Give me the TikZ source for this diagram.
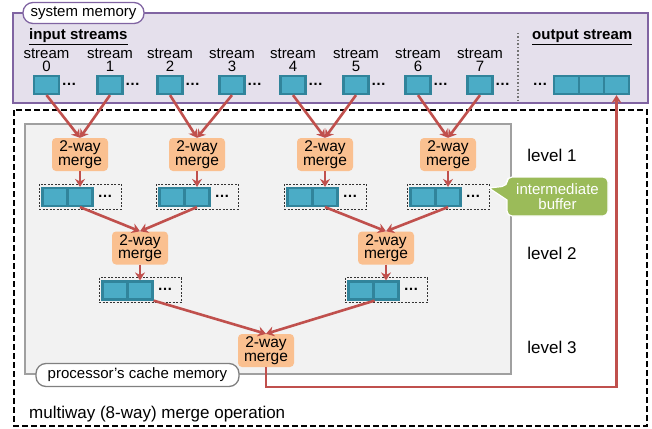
\documentclass[tikz,border=0pt]{standalone}
\usepackage{fontspec}
\setmainfont{Liberation Sans}
\usetikzlibrary{arrows.meta,calc}
\definecolor{cellfill}{HTML}{4BACC6}
\definecolor{celldraw}{HTML}{31849B}
\definecolor{sysfill}{HTML}{E5E0EC}
\definecolor{sysdraw}{HTML}{8064A2}
\definecolor{mergefill}{HTML}{FAC090}
\definecolor{arrred}{HTML}{C0504D}
\definecolor{callgreen}{HTML}{9BBB59}
\definecolor{cachefill}{HTML}{F2F2F2}
\definecolor{cachedraw}{HTML}{A0A0A0}
\begin{document}
\begin{tikzpicture}[x=1pt,y=-1pt,
  cell/.style={draw=celldraw,fill=cellfill,line width=2.2pt,minimum width=25pt,minimum height=18pt,inner sep=0pt},
  bufbox/.style={draw=black!80,dash pattern=on 2pt off 1.5pt,line width=0.7pt,minimum width=82pt,minimum height=25pt,inner sep=0pt},
  mergebox/.style={fill=mergefill,rounded corners=4pt,minimum width=56pt,minimum height=33pt,inner sep=0pt,align=center,font=\fontsize{15.5}{13.5}\selectfont},
  dotsnode/.style={inner sep=0pt,font=\fontsize{15}{15}\selectfont\bfseries},
  streamlabel/.style={inner sep=0pt,align=center,font=\fontsize{15}{13.5}\selectfont},
  pill/.style={fill=white,rounded corners=10pt,line width=1.3pt,inner sep=0pt,font=\fontsize{15}{15}\selectfont},
  levellabel/.style={inner sep=0pt,font=\fontsize{17}{17}\selectfont},
  arr/.style={draw=arrred,line width=2.6pt,-{Stealth[length=8pt,width=10pt]}}
]
\useasboundingbox (0,0) rectangle (652,428);

% system memory
\draw[fill=sysfill,draw=sysdraw,line width=1.5pt] (13,13) rectangle (648,103);
\node[pill,draw=sysdraw,minimum width=121pt,minimum height=21pt] (sysm) at (83.5,13) {system memory};
\node[anchor=base west,inner sep=0pt,font=\fontsize{15}{15}\selectfont\bfseries] (instr) at (29,40) {\underline{input streams}};
\node[anchor=base west,inner sep=0pt,font=\fontsize{15}{15}\selectfont\bfseries] (outstr) at (532,40) {\underline{output stream}};
\draw[draw=black!55,line width=1.3pt,dash pattern=on 1.5pt off 2pt] (518,33) -- (518,100);

% outer dashed box
\draw[black,line width=1.4pt,dash pattern=on 6pt off 3pt] (14,110) rectangle (647,426);
\node[anchor=base west,inner sep=0pt,font=\fontsize{17}{17}\selectfont] (multi) at (29,418) {multiway (8-way) merge operation};

% cache box
\draw[fill=cachefill,draw=cachedraw,line width=1.5pt] (25,124) rectangle (511,374);
\node[pill,draw=black!50,minimum width=203pt,minimum height=23pt] (cachem) at (137.5,375) {processor’s cache memory};

% input streams
\foreach \i/\x in {0/46.5,1/110,2/170,3/232,4/293,5/356,6/418,7/480}{
  \node[streamlabel] (l\i) at (\x,60) {stream\\\i};
  \node[cell] (s\i) at (\x,85) {};
  \node[dotsnode] (d\i) at (\x+22.5,84) {…};
}

% output stream
\node[dotsnode] (od) at (540,84) {…};
\node[cell] (o1) at (566.5,85) {};
\node[cell] (o2) at (591.5,85) {};
\node[cell] (o3) at (616.5,85) {};

% level labels
\node[levellabel] (lev1) at (552,155) {level 1};
\node[levellabel] (lev2) at (552,253) {level 2};
\node[levellabel] (lev3) at (552,347) {level 3};

% merges
\node[mergebox] (m1) at (80,154.5) {2-way\\merge};
\node[mergebox] (m2) at (197,154.5) {2-way\\merge};
\node[mergebox] (m3) at (325,154.5) {2-way\\merge};
\node[mergebox] (m4) at (448,154.5) {2-way\\merge};
\node[mergebox] (m5) at (140,248) {2-way\\merge};
\node[mergebox] (m6) at (386,248) {2-way\\merge};
\node[mergebox] (m7) at (266,350.5) {2-way\\merge};

% buffers
\foreach \n/\mx/\yb in {1/80/197,2/197/197,3/325/197,4/448/197,5/140/290.5,6/386/290.5}{
  \node[bufbox] (bb\n) at (\mx,\yb-0.5) {};
  \node[cell] (b\n a) at (\mx-25,\yb) {};
  \node[cell] (b\n b) at (\mx,\yb) {};
  \node[dotsnode] (bd\n) at (\mx+25,\yb-1) {…};
}

% callout
\draw[fill=callgreen,draw=white,line width=1.2pt] (507,186) -- (489,188) -- (507,200) [rounded corners=5pt] -- (507,216) -- (608,216) -- (608,177) -- (507,177) -- cycle;
\node[inner sep=0pt,align=center,text=white,font=\fontsize{15}{15.5}\selectfont] (callt) at (557.5,196.5) {intermediate\\buffer};

% arrows level 1
\draw[arr] (s0.south) -- (m1.north);
\draw[arr] (s1.south) -- (m1.north);
\draw[arr] (s2.south) -- (m2.north);
\draw[arr] (s3.south) -- (m2.north);
\draw[arr] (s4.south) -- (m3.north);
\draw[arr] (s5.south) -- (m3.north);
\draw[arr] (s6.south) -- (m4.north);
\draw[arr] (s7.south) -- (m4.north);
\foreach \n in {1,...,6}{\draw[arr] (m\n.south) -- (b\n b.north);}
% level 2
\draw[arr] (b1b.south) -- (m5.north);
\draw[arr] (b2b.south) -- (m5.north);
\draw[arr] (b3b.south) -- (m6.north);
\draw[arr] (b4b.south) -- (m6.north);
% level 3
\draw[arr] (b5b.south east) -- (m7.north);
\draw[arr] (b6a.south east) -- (m7.north);
% output
\coordinate (ret) at (616.5,387);
\draw[arr] (m7.south) |- (ret) -- (o3.south);
\end{tikzpicture}
\end{document}
